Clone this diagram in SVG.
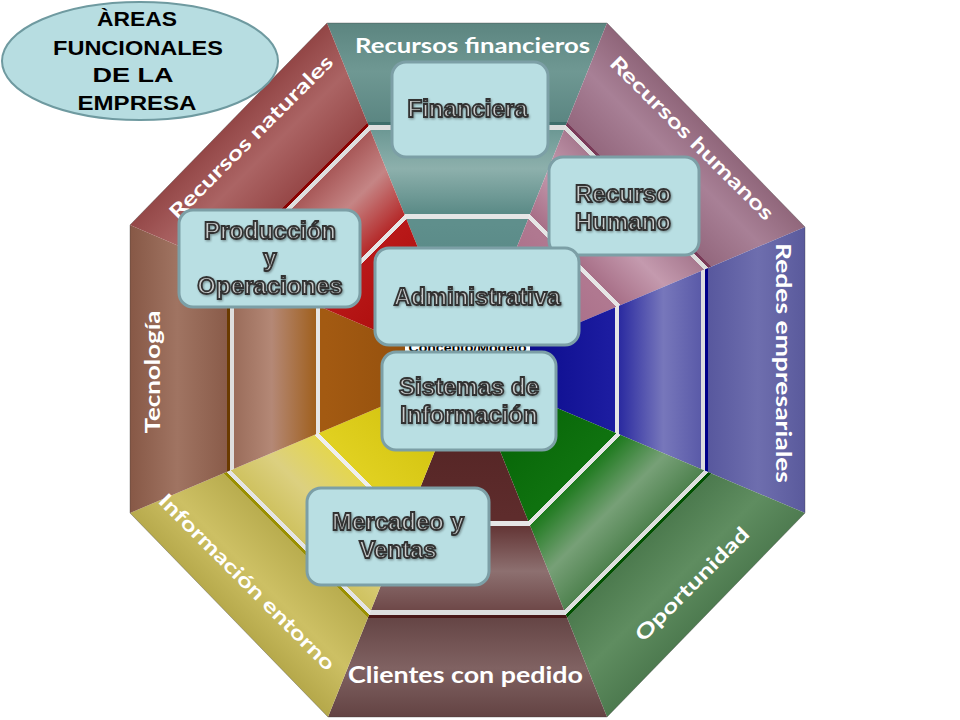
<svg xmlns="http://www.w3.org/2000/svg" width="960" height="720" viewBox="0 0 960 720">
<defs>
<style>
.lbl{font-family:Lato,"Open Sans","DejaVu Sans",sans-serif;font-weight:700;font-size:20px;fill:#ffffff;text-anchor:middle;}
.box{fill:#b9dfe3;stroke:#7c9fa6;stroke-width:3;}
.bt{font-family:"Liberation Sans",Arial,sans-serif;font-weight:700;font-size:24px;fill:#c9cccc;stroke:#333333;stroke-width:1.8;text-anchor:middle;filter:url(#sh);}
.title{font-family:"Liberation Sans",Arial,sans-serif;font-weight:700;font-size:21px;fill:#000000;text-anchor:middle;}
</style>
<filter id="sh" x="-10%" y="-30%" width="120%" height="160%">
<feDropShadow dx="1" dy="1.2" stdDeviation="0.8" flood-color="#000000" flood-opacity="0.35"/>
</filter>
<linearGradient id="gT" gradientUnits="userSpaceOnUse" x1="467.5" y1="370" x2="467.5" y2="23">
<stop offset="0" stop-color="#4a7b7a"/><stop offset="0.42" stop-color="#5f8f8c"/>
<stop offset="0.436" stop-color="#5f8f8c"/><stop offset="0.436" stop-color="#e6e6e6"/><stop offset="0.449" stop-color="#e6e6e6"/>
<stop offset="0.449" stop-color="#5a8a86"/><stop offset="0.58" stop-color="#8db0ac"/><stop offset="0.693" stop-color="#6c9894"/>
<stop offset="0.693" stop-color="#dedede"/><stop offset="0.705" stop-color="#dedede"/><stop offset="0.705" stop-color="#3f6e6b"/><stop offset="0.714" stop-color="#3f6e6b"/>
<stop offset="0.714" stop-color="#5b8682"/><stop offset="0.86" stop-color="#6f9893"/><stop offset="1" stop-color="#5c8580"/>
</linearGradient>
<linearGradient id="gTR" gradientUnits="userSpaceOnUse" x1="467.5" y1="370" x2="710.7" y2="126.8">
<stop offset="0" stop-color="#9a5a78"/><stop offset="0.42" stop-color="#b07890"/>
<stop offset="0.436" stop-color="#b07890"/><stop offset="0.436" stop-color="#e6e6e6"/><stop offset="0.449" stop-color="#e6e6e6"/>
<stop offset="0.449" stop-color="#a87088"/><stop offset="0.58" stop-color="#c49aae"/><stop offset="0.693" stop-color="#a87a90"/>
<stop offset="0.693" stop-color="#dedede"/><stop offset="0.705" stop-color="#dedede"/><stop offset="0.705" stop-color="#7a3a58"/><stop offset="0.714" stop-color="#7a3a58"/>
<stop offset="0.714" stop-color="#94687e"/><stop offset="0.86" stop-color="#a88096"/><stop offset="1" stop-color="#8f6579"/>
</linearGradient>
<linearGradient id="gR" gradientUnits="userSpaceOnUse" x1="467.5" y1="370" x2="805" y2="370">
<stop offset="0" stop-color="#000080"/><stop offset="0.42" stop-color="#1c1ca0"/>
<stop offset="0.436" stop-color="#1c1ca0"/><stop offset="0.436" stop-color="#e6e6e6"/><stop offset="0.449" stop-color="#e6e6e6"/>
<stop offset="0.449" stop-color="#2a2aa0"/><stop offset="0.58" stop-color="#7777bb"/><stop offset="0.693" stop-color="#5a5aa8"/>
<stop offset="0.693" stop-color="#dedede"/><stop offset="0.705" stop-color="#dedede"/><stop offset="0.705" stop-color="#000088"/><stop offset="0.714" stop-color="#000088"/>
<stop offset="0.714" stop-color="#58589e"/><stop offset="0.86" stop-color="#6e6eae"/><stop offset="1" stop-color="#5a5a9c"/>
</linearGradient>
<linearGradient id="gBR" gradientUnits="userSpaceOnUse" x1="467.5" y1="370" x2="710.7" y2="613.2">
<stop offset="0" stop-color="#005a00"/><stop offset="0.42" stop-color="#0f720f"/>
<stop offset="0.436" stop-color="#0f720f"/><stop offset="0.436" stop-color="#e6e6e6"/><stop offset="0.449" stop-color="#e6e6e6"/>
<stop offset="0.449" stop-color="#1e7a1e"/><stop offset="0.58" stop-color="#77a077"/><stop offset="0.693" stop-color="#4f824f"/>
<stop offset="0.693" stop-color="#dedede"/><stop offset="0.705" stop-color="#dedede"/><stop offset="0.705" stop-color="#005000"/><stop offset="0.714" stop-color="#005000"/>
<stop offset="0.714" stop-color="#4c7a4e"/><stop offset="0.86" stop-color="#5f8d60"/><stop offset="1" stop-color="#4d7a4f"/>
</linearGradient>
<linearGradient id="gB" gradientUnits="userSpaceOnUse" x1="467.5" y1="370" x2="467.5" y2="717">
<stop offset="0" stop-color="#4e2020"/><stop offset="0.42" stop-color="#5e2c2c"/>
<stop offset="0.436" stop-color="#5e2c2c"/><stop offset="0.436" stop-color="#e6e6e6"/><stop offset="0.449" stop-color="#e6e6e6"/>
<stop offset="0.449" stop-color="#633535"/><stop offset="0.58" stop-color="#8d7070"/><stop offset="0.693" stop-color="#6e4848"/>
<stop offset="0.693" stop-color="#dedede"/><stop offset="0.705" stop-color="#dedede"/><stop offset="0.705" stop-color="#4a1818"/><stop offset="0.714" stop-color="#4a1818"/>
<stop offset="0.714" stop-color="#654545"/><stop offset="0.86" stop-color="#806262"/><stop offset="1" stop-color="#634343"/>
</linearGradient>
<linearGradient id="gBL" gradientUnits="userSpaceOnUse" x1="467.5" y1="370" x2="224.3" y2="613.2">
<stop offset="0" stop-color="#c8b800"/><stop offset="0.42" stop-color="#e0d020"/>
<stop offset="0.436" stop-color="#e0d020"/><stop offset="0.436" stop-color="#eeeeee"/><stop offset="0.449" stop-color="#eeeeee"/>
<stop offset="0.449" stop-color="#e4d650"/><stop offset="0.58" stop-color="#dcd080"/><stop offset="0.693" stop-color="#cfc260"/>
<stop offset="0.693" stop-color="#e4e4e4"/><stop offset="0.705" stop-color="#e4e4e4"/><stop offset="0.705" stop-color="#9a9000"/><stop offset="0.714" stop-color="#9a9000"/>
<stop offset="0.714" stop-color="#b9ad4f"/><stop offset="0.86" stop-color="#cdc064"/><stop offset="1" stop-color="#b5a84a"/>
</linearGradient>
<linearGradient id="gL" gradientUnits="userSpaceOnUse" x1="467.5" y1="370" x2="130" y2="370">
<stop offset="0" stop-color="#8a4a0a"/><stop offset="0.42" stop-color="#a35a12"/>
<stop offset="0.436" stop-color="#a35a12"/><stop offset="0.436" stop-color="#e6e6e6"/><stop offset="0.449" stop-color="#e6e6e6"/>
<stop offset="0.449" stop-color="#a0601e"/><stop offset="0.58" stop-color="#b48876"/><stop offset="0.693" stop-color="#9a6c5a"/>
<stop offset="0.693" stop-color="#dedede"/><stop offset="0.705" stop-color="#dedede"/><stop offset="0.705" stop-color="#6a3a00"/><stop offset="0.714" stop-color="#6a3a00"/>
<stop offset="0.714" stop-color="#8a5c4a"/><stop offset="0.86" stop-color="#a07462"/><stop offset="1" stop-color="#875846"/>
</linearGradient>
<linearGradient id="gTL" gradientUnits="userSpaceOnUse" x1="467.5" y1="370" x2="224.3" y2="126.8">
<stop offset="0" stop-color="#a00000"/><stop offset="0.42" stop-color="#b81818"/>
<stop offset="0.436" stop-color="#b81818"/><stop offset="0.436" stop-color="#e6e6e6"/><stop offset="0.449" stop-color="#e6e6e6"/>
<stop offset="0.449" stop-color="#b52a2a"/><stop offset="0.58" stop-color="#c58585"/><stop offset="0.693" stop-color="#a85858"/>
<stop offset="0.693" stop-color="#dedede"/><stop offset="0.705" stop-color="#dedede"/><stop offset="0.705" stop-color="#8b0000"/><stop offset="0.714" stop-color="#8b0000"/>
<stop offset="0.714" stop-color="#974848"/><stop offset="0.86" stop-color="#ab6464"/><stop offset="1" stop-color="#934646"/>
</linearGradient>
</defs>
<rect x="0" y="0" width="960" height="720" fill="#ffffff"/>

<g id="octagon">
<polygon id="sector-financieros" points="467.5,370 327,23 607,23" fill="url(#gT)"/>
<polygon id="sector-humanos" points="467.5,370 607,23 805,227" fill="url(#gTR)"/>
<polygon id="sector-redes" points="467.5,370 805,227 805,513" fill="url(#gR)"/>
<polygon id="sector-oportunidad" points="467.5,370 805,513 607,717" fill="url(#gBR)"/>
<polygon id="sector-clientes" points="467.5,370 607,717 328,717" fill="url(#gB)"/>
<polygon id="sector-informacion" points="467.5,370 328,717 130,513" fill="url(#gBL)"/>
<polygon id="sector-tecnologia" points="467.5,370 130,513 130,225" fill="url(#gL)"/>
<polygon id="sector-naturales" points="467.5,370 130,225 327,23" fill="url(#gTL)"/>
<polygon points="327,23 607,23 805,227 805,513 607,717 328,717 130,513 130,225" fill="none" stroke="#3a3a3a" stroke-opacity="0.35" stroke-width="1"/>
</g>

<g id="labels">
<text class="lbl" x="472.5" y="53" textLength="235" lengthAdjust="spacingAndGlyphs">Recursos financieros</text>
<text class="lbl" x="465.5" y="683" style="font-size:22px" textLength="235" lengthAdjust="spacingAndGlyphs">Clientes con pedido</text>
<text class="lbl" transform="translate(251,137) rotate(-45)" x="0" y="7" textLength="222" lengthAdjust="spacingAndGlyphs">Recursos naturales</text>
<text class="lbl" transform="translate(692,138) rotate(45)" x="0" y="7" textLength="222" lengthAdjust="spacingAndGlyphs">Recursos humanos</text>
<text class="lbl" transform="translate(783,363) rotate(90)" x="0" y="7" textLength="240" lengthAdjust="spacingAndGlyphs">Redes empresariales</text>
<text class="lbl" transform="translate(153,372) rotate(-90)" x="0" y="7" textLength="123" lengthAdjust="spacingAndGlyphs">Tecnología</text>
<text class="lbl" transform="translate(247,582) rotate(45)" x="0" y="7" textLength="240" lengthAdjust="spacingAndGlyphs">Información entorno</text>
<text class="lbl" transform="translate(692,584) rotate(-45)" x="0" y="7" textLength="152" lengthAdjust="spacingAndGlyphs">Oportunidad</text>
</g>

<g id="concepto">
<rect x="405" y="338" width="125" height="14" fill="#ffffff"/>
<text x="467.5" y="351.5" style="font-family:'Liberation Sans',Arial,sans-serif;font-weight:700;font-size:12px;fill:#000000;text-anchor:middle" textLength="118" lengthAdjust="spacingAndGlyphs">Concepto/Modelo</text>
</g>

<g id="node-financiera">
<rect class="box" x="392" y="62" width="156" height="95" rx="14"/>
<text class="bt" x="467.5" y="117">Financiera</text>
</g>
<g id="node-recurso-humano">
<rect class="box" x="549" y="157" width="150" height="98" rx="14"/>
<text class="bt" x="623" y="202">Recurso</text>
<text class="bt" x="623" y="230">Humano</text>
</g>
<g id="node-produccion">
<rect class="box" x="179" y="210" width="181" height="97" rx="14"/>
<text class="bt" x="270" y="239">Producción</text>
<text class="bt" x="270" y="266">y</text>
<text class="bt" x="270" y="294">Operaciones</text>
</g>
<g id="node-administrativa">
<rect class="box" x="375" y="248" width="204" height="97" rx="14"/>
<text class="bt" x="477" y="305">Administrativa</text>
</g>
<g id="node-sistemas">
<rect class="box" x="382" y="352" width="174" height="98" rx="14"/>
<text class="bt" x="469" y="395">Sistemas de</text>
<text class="bt" x="469" y="423">Información</text>
</g>
<g id="node-mercadeo">
<rect class="box" x="307" y="488" width="182" height="97" rx="14"/>
<text class="bt" x="398" y="530">Mercadeo y</text>
<text class="bt" x="398" y="558">Ventas</text>
</g>

<g id="node-title">
<ellipse cx="140" cy="61" rx="138" ry="59" fill="#b7dde1" stroke="#6f9aa0" stroke-width="2"/>
<text class="title" x="137" y="26" textLength="80" lengthAdjust="spacingAndGlyphs">ÀREAS</text>
<text class="title" x="138" y="55" textLength="170" lengthAdjust="spacingAndGlyphs">FUNCIONALES</text>
<text class="title" x="133" y="82" textLength="81" lengthAdjust="spacingAndGlyphs">DE LA</text>
<text class="title" x="137" y="110" textLength="119" lengthAdjust="spacingAndGlyphs">EMPRESA</text>
</g>
</svg>
